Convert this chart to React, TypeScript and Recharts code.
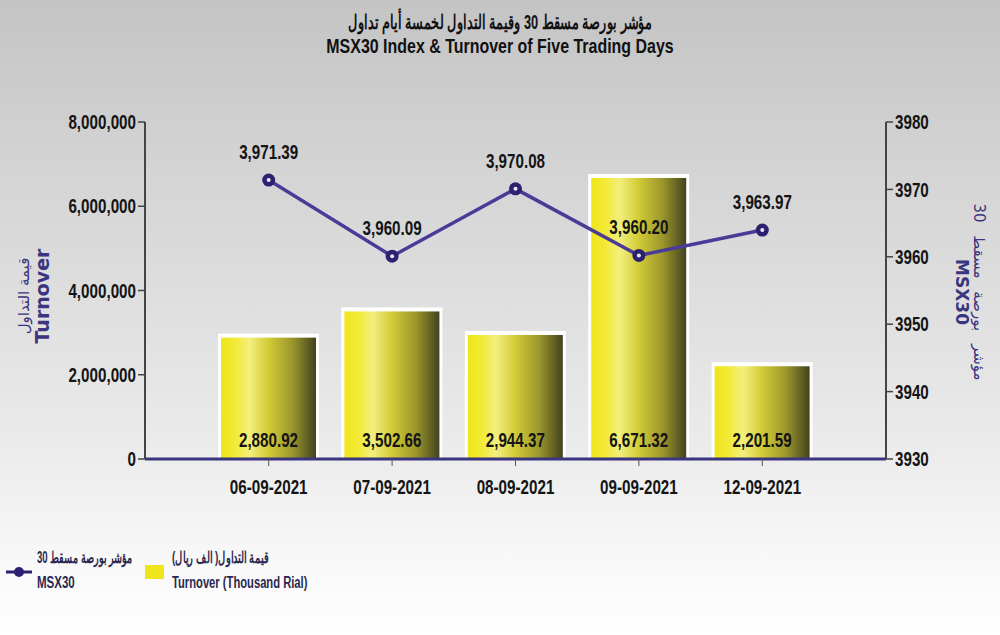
import { ComposedChart, Bar, Line, XAxis, YAxis, LabelList } from "recharts";

const dates = ["06-09-2021", "07-09-2021", "08-09-2021", "09-09-2021", "12-09-2021"];
const turnover = [2880920, 3502660, 2944370, 6671320, 2201590];
const msx30 = [3971.39, 3960.09, 3970.08, 3960.2, 3963.97];
const leftTicks = [0, 2000000, 4000000, 6000000, 8000000];
const rightTicks = [3930, 3940, 3950, 3960, 3970, 3980];

const data = dates.map((date, i) => ({ date, turnover: turnover[i], msx30: msx30[i] }));

const FONT = "'Liberation Sans', Arial, sans-serif";
const SQ = 0.76; // narrow the bold text like the source's condensed face
const LINE = "#4a3b98";
const DOT = "#2b2170";
const NAVY = "#3a3580";

const fmt2 = (v: number) =>
  v.toLocaleString("en-US", { minimumFractionDigits: 2, maximumFractionDigits: 2 });

// bold, squeezed svg text
const Narrow = ({ x, y, anchor, dy, children, size = 20 }: any) => (
  <g transform={`translate(${x},${y})`}>
    <text
      transform={`scale(${SQ},1)`}
      textAnchor={anchor}
      dy={dy}
      fontFamily={FONT}
      fontWeight="bold"
      fontSize={size}
      fill="#141414"
    >
      {children}
    </text>
  </g>
);

const LeftTick = (p: any) => (
  <Narrow x={p.x} y={p.y} anchor="end" dy="0.36em">
    {Number(p.payload.value).toLocaleString("en-US")}
  </Narrow>
);
const RightTick = (p: any) => (
  <Narrow x={p.x} y={p.y} anchor="start" dy="0.36em">
    {p.payload.value}
  </Narrow>
);
const BottomTick = (p: any) => (
  <Narrow x={p.x} y={p.y} anchor="middle" dy={26}>
    {p.payload.value}
  </Narrow>
);

const BarShape = (props: any) => {
  const { x, y, width, height } = props;
  return (
    <g>
      <rect x={x - 3} y={y - 4} width={width + 6} height={height + 4} fill="#ffffff" />
      <rect x={x} y={y} width={width} height={height} fill="url(#barGrad)" />
    </g>
  );
};

const Dot = (props: any) => {
  const { cx, cy } = props;
  return (
    <g>
      <circle cx={cx} cy={cy} r={6.5} fill={DOT} />
      <circle cx={cx} cy={cy} r={2} fill="#e8e6f5" />
    </g>
  );
};

const BarLabel = (props: any) => {
  const { x, y, width, height, value } = props;
  return (
    <Narrow x={x + width / 2} y={y + height - 12} anchor="middle">
      {fmt2(value / 1000)}
    </Narrow>
  );
};

const PointLabel = (props: any) => {
  const { x, y, value } = props;
  return (
    <Narrow x={x} y={y - 21} anchor="middle">
      {fmt2(Number(value))}
    </Narrow>
  );
};

const squeeze = (k: number) => ({
  transform: `scaleX(${k})`,
  transformOrigin: "left center",
  whiteSpace: "nowrap" as const,
});

export default function App() {
  return (
    <div
      style={{
        position: "absolute",
        left: 0,
        top: 0,
        width: 1000,
        height: 635,
        overflow: "hidden",
        background:
          "linear-gradient(to bottom, #c4c4c4 0%, #d3d3d3 25%, #e0e0e0 50%, #ececec 72%, #f8f8f8 88%, #ffffff 100%)",
        fontFamily: FONT,
      }}
    >
      <div
        style={{
          position: "absolute",
          top: 10,
          width: 1000,
          textAlign: "center",
          fontWeight: "bold",
          color: "#111",
          lineHeight: "24px",
        }}
      >
        <div dir="rtl" style={{ fontSize: 20, transform: "scaleX(0.64)" }}>
          مؤشر بورصة مسقط 30 وقيمة التداول لخمسة أيام تداول
        </div>
        <div style={{ fontSize: 21, transform: "scaleX(0.76)" }}>
          MSX30 Index &amp; Turnover of Five Trading Days
        </div>
      </div>

      <div
        style={{
          position: "absolute",
          left: 33,
          top: 296,
          transform: "translate(-50%, -50%) rotate(-90deg)",
          textAlign: "center",
          color: NAVY,
          whiteSpace: "nowrap",
          lineHeight: "18px",
          fontFamily: "'DejaVu Sans', sans-serif",
        }}
      >
        <div dir="rtl" style={{ fontSize: 15 }}>قيمة التداول</div>
        <div style={{ fontSize: 19, fontWeight: "bold" }}>Turnover</div>
      </div>

      <div
        style={{
          position: "absolute",
          left: 970,
          top: 292,
          transform: "translate(-50%, -50%) rotate(90deg)",
          textAlign: "center",
          color: NAVY,
          whiteSpace: "nowrap",
          lineHeight: "17px",
          fontFamily: "'DejaVu Sans', sans-serif",
        }}
      >
        <div dir="rtl" style={{ fontSize: 15, wordSpacing: 8 }}>مؤشر بورصة مسقط 30</div>
        <div style={{ fontSize: 17, fontWeight: "bold" }}>MSX30</div>
      </div>

      <div style={{ position: "absolute", left: 0, top: 0 }}>
        <ComposedChart
          width={1000}
          height={520}
          data={data}
          margin={{ top: 122, right: 44, left: 75, bottom: 21 }}
        >
          <defs>
            <linearGradient id="barGrad" x1="0" y1="0" x2="1" y2="0">
              <stop offset="0%" stopColor="#efe51a" />
              <stop offset="14%" stopColor="#f2ea33" />
              <stop offset="30%" stopColor="#f3ef7e" />
              <stop offset="50%" stopColor="#d2cb36" />
              <stop offset="75%" stopColor="#9c972d" />
              <stop offset="100%" stopColor="#43421e" />
            </linearGradient>
          </defs>
          <XAxis
            dataKey="date"
            padding={{ left: 62, right: 62 }}
            axisLine={{ stroke: NAVY, strokeWidth: 3 }}
            tickLine={{ stroke: "#555", strokeWidth: 1 }}
            tickSize={7}
            tick={<BottomTick />}
            height={40}
          />
          <YAxis
            yAxisId="left"
            domain={[0, 8000000]}
            ticks={leftTicks}
            axisLine={{ stroke: "#444", strokeWidth: 2 }}
            tickLine={{ stroke: "#444", strokeWidth: 1.5 }}
            tickSize={7}
            tick={<LeftTick />}
            width={70}
          />
          <YAxis
            yAxisId="right"
            orientation="right"
            domain={[3930, 3980]}
            ticks={rightTicks}
            axisLine={{ stroke: "#444", strokeWidth: 2 }}
            tickLine={{ stroke: "#444", strokeWidth: 1.5 }}
            tickSize={7}
            tick={<RightTick />}
            width={70}
          />
          <Bar
            yAxisId="left"
            dataKey="turnover"
            barSize={95}
            shape={<BarShape />}
            isAnimationActive={false}
          >
            <LabelList dataKey="turnover" content={<BarLabel />} />
          </Bar>
          <Line
            yAxisId="right"
            dataKey="msx30"
            stroke={LINE}
            strokeWidth={3.5}
            dot={<Dot />}
            activeDot={false}
            isAnimationActive={false}
          >
            <LabelList dataKey="msx30" content={<PointLabel />} />
          </Line>
        </ComposedChart>
      </div>

      <svg style={{ position: "absolute", left: 0, top: 560 }} width={40} height={24}>
        <line x1={6} y1={12} x2={32} y2={12} stroke={DOT} strokeWidth={3} />
        <circle cx={19} cy={12} r={5} fill={DOT} />
      </svg>
      <div
        style={{
          position: "absolute",
          left: 37,
          top: 545,
          fontWeight: "bold",
          fontSize: 16,
          color: "#2a2850",
          lineHeight: "25px",
        }}
      >
        <div dir="rtl" style={{ textAlign: "left", ...squeeze(0.6) }}>مؤشر بورصة مسقط 30</div>
        <div style={squeeze(0.72)}>MSX30</div>
      </div>
      <div
        style={{ position: "absolute", left: 145, top: 565, width: 19, height: 14, background: "#eee51c" }}
      />
      <div
        style={{
          position: "absolute",
          left: 172,
          top: 545,
          fontWeight: "bold",
          fontSize: 16,
          color: "#2a2850",
          lineHeight: "25px",
        }}
      >
        <div dir="rtl" style={{ textAlign: "left", ...squeeze(0.62) }}>قيمة التداول( الف ريال)</div>
        <div style={squeeze(0.7)}>Turnover (Thousand Rial)</div>
      </div>
    </div>
  );
}
